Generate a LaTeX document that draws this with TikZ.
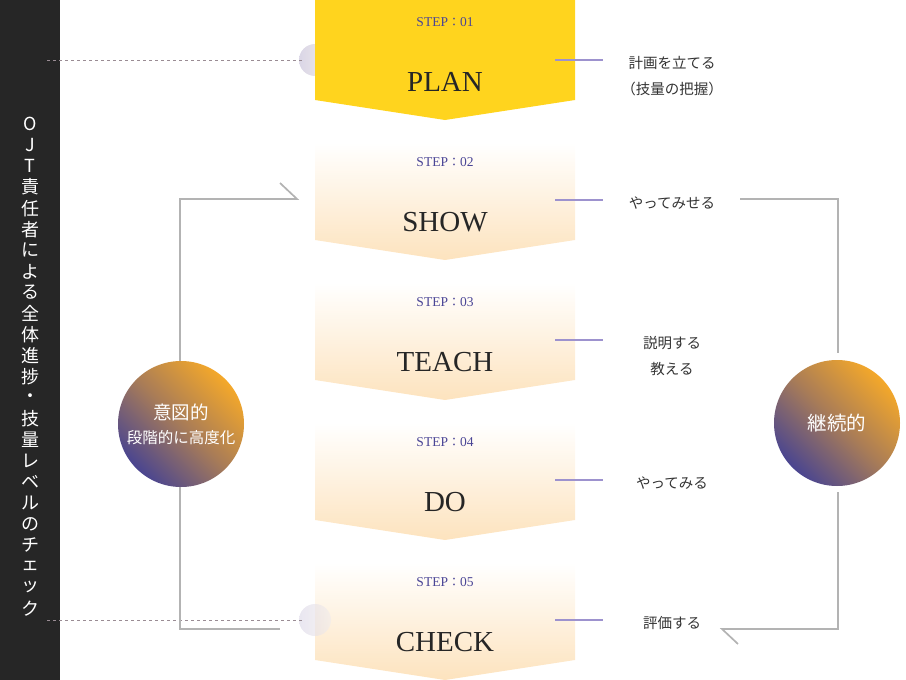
\documentclass[tikz,border=0pt]{standalone}
\usepackage{fontspec}
\setmainfont{Liberation Serif}
\newfontfamily\cjk{Noto Sans CJK JP}
\definecolor{darkbar}{HTML}{262626}
\definecolor{stepyellow}{HTML}{FFD41E}
\definecolor{peach}{HTML}{FDE3BE}
\definecolor{steptxt}{HTML}{4A4596}
\definecolor{titletxt}{HTML}{262626}
\definecolor{connpurple}{HTML}{9D92CE}
\definecolor{bracketgray}{HTML}{B3B3B3}
\definecolor{circorange}{HTML}{F4A82A}
\definecolor{circpurple}{HTML}{4A4590}
\definecolor{dashgray}{HTML}{9A8C94}
\definecolor{lavA}{HTML}{DAD6E6}
\definecolor{lavB}{HTML}{F1ECEC}
\definecolor{labeltxt}{HTML}{333333}
\tikzset{
  steplabel/.style={font=\fontsize{13.5}{13.5}\selectfont, text=steptxt},
  steptitle/.style={font=\fontsize{29}{29}\selectfont, text=titletxt},
  rightlabel/.style={font=\cjk\fontsize{14.5}{26}\selectfont, text=labeltxt, align=center},
  conn/.style={connpurple, line width=1.3pt},
  bracket/.style={bracketgray, line width=1.7pt},
  dashline/.style={dashgray, line width=0.9pt, dash pattern=on 3pt off 3pt},
  bigcirc/.style={circle, minimum size=126pt, inner sep=0pt, text=white, align=center,
    top color=circorange, bottom color=circpurple, middle color=circorange!55!circpurple, shading angle=-45},
  smallcirc/.style={circle, minimum size=32pt, inner sep=0pt, left color=lavA, right color=lavB},
  vchar/.style={font=\cjk\fontsize{18}{18}\selectfont, text=white, inner sep=0pt}
}
\begin{document}
\begin{tikzpicture}[x=1pt,y=-1pt]
\useasboundingbox (0,0) rectangle (906,680);
% left dark bar
\fill[darkbar] (0,0) rectangle (60,680);
\foreach \c [count=\i from 0] in {O,J,T,責,任,者,に,よ,る,全,体,進,捗,・,技,量,レ,ベ,ル,の,チ,ェ,ッ,ク}
  \node[vchar] (v\i) at (30,{124+21.05*\i}) {\c};
% dashed lines and small circles
\node[smallcirc] (sc1) at (315,60) {};
\draw[dashline] (47,60) -- (302,60);
% step boxes
\fill[stepyellow] (315,0) -- (575,0) -- (575,100) -- (445,120) -- (315,100) -- cycle;
\foreach \k in {1,2,3,4} {
  \shade[top color=white, bottom color=peach]
    (315,{3+140*\k}) -- (575,{3+140*\k}) -- (575,{100+140*\k}) -- (445,{120+140*\k}) -- (315,{100+140*\k}) -- cycle;
}
\node[smallcirc, opacity=0.6] (sc5) at (315,620) {};
\draw[dashline] (47,620) -- (302,620);
% step texts
\foreach \k/\t in {0/PLAN,1/SHOW,2/TEACH,3/DO,4/CHECK} {
  \pgfmathtruncatemacro{\n}{\k+1}
  \node[steplabel] (s\k) at (445,{22+140*\k}) {STEP{\cjk\fontsize{12}{12}\selectfont ：}0\n};
  \node[steptitle] (t\k) at (445,{82+140*\k}) {\t};
  \coordinate (ca\k) at (555,{60+140*\k});
  \coordinate (cb\k) at (603,{60+140*\k});
  \draw[conn] (ca\k) -- (cb\k);
}
% right labels
\node[rightlabel] (r0) at (672,76) {計画を立てる\\（技量の把握）};
\node[rightlabel] (r1) at (672,203) {やってみせる};
\node[rightlabel] (r2) at (672,356) {説明する\\教える};
\node[rightlabel] (r3) at (672,483) {やってみる};
\node[rightlabel] (r4) at (672,623) {評価する};
% big circles
\node[bigcirc, font=\cjk\fontsize{15.5}{24}\selectfont] (lc) at (181,424) {{\fontsize{18.5}{24}\selectfont 意図的}\\{段階的に高度化}};
\node[bigcirc] (rc) at (837,423) {{\cjk\fontsize{19.5}{24}\selectfont 継続的}};
% brackets
\coordinate (la) at (180,199);
\coordinate (lb) at (297,199);
\coordinate (lt) at (280,183);
\coordinate (ld) at (180,629);
\coordinate (le) at (280,629);
\draw[bracket] (lc.north -| la) -- (la) -- (lb) -- (lt);
\draw[bracket] (lc.south -| ld) -- (ld) -- (le);
\coordinate (ra) at (740,199);
\coordinate (rb) at (838,199);
\coordinate (rcu) at (838,353);
\coordinate (rcd) at (838,492);
\coordinate (rd) at (838,629);
\coordinate (re) at (722,629);
\coordinate (rt) at (738,644);
\draw[bracket] (ra) -- (rb) -- (rcu);
\draw[bracket] (rcd) -- (rd) -- (re) -- (rt);
\end{tikzpicture}
\end{document}
